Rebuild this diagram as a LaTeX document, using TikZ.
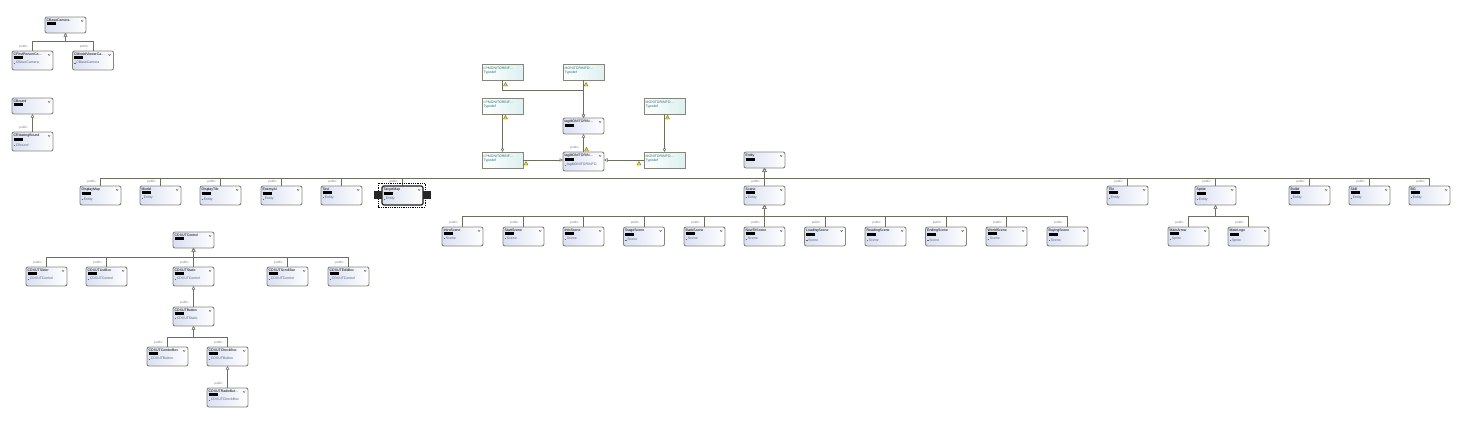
\documentclass[tikz,border=0pt]{standalone}
\usepackage{fontspec}
\setmainfont{Liberation Sans}
\usetikzlibrary{arrows.meta}
\definecolor{boxblue}{HTML}{DAE0F2}
\definecolor{boxedge}{HTML}{85857A}
\definecolor{linegray}{HTML}{6E6E60}
\definecolor{basegray}{HTML}{5A6478}
\definecolor{typeteal}{HTML}{2F6F70}
\definecolor{typecyan}{HTML}{DDF0F0}
\newcommand{\basename}[1]{\textcolor{basegray}{\rule[.4pt]{1.6pt}{1pt}\,#1}}
\tikzset{
  classbox/.style={anchor=north west, draw=boxedge, line width=.9pt, rounded corners=2pt, outer sep=0pt,
    left color=boxblue, right color=white, minimum width=41pt, inner sep=0pt},
  typebox/.style={anchor=north west, draw=boxedge, line width=.9pt, outer sep=0pt,
    left color=white, right color=typecyan, minimum width=41pt, minimum height=16pt, inner sep=0pt},
  boxtext/.style={anchor=north west, align=left, inner sep=0pt, font=\fontsize{3.5pt}{4pt}\selectfont},
  pub/.style={text=gray, inner sep=0pt, font=\fontsize{3.2pt}{4pt}\selectfont},
  conn/.style={draw=linegray, line width=1pt, -{Triangle[open,fill=white,length=3.5pt,width=3.5pt,line width=.5pt]}},
  chev/.style={draw=black!70, line width=.4pt},
  warn/.style={draw=black!70, fill=yellow!85!orange, line width=.3pt}
}
\begin{document}
\begin{tikzpicture}[x=1pt,y=-1pt]
  \useasboundingbox (0,0) rectangle (1468,421);
  % Class boxes: name/left/top/height/title/base
  \foreach \n/\x/\y/\h/\ttl/\bas in {
    camBase/45/17/16/CBaseCamera/{},
    camFirst/12/51/19/CFirstPersonCa\dots/\basename{CBaseCamera},
    camModel/72.5/51/19/CModelViewerCa\dots/\basename{CBaseCamera},
    bound/12/98/16/CBound/{},
    boundRot/12/132/19/CRotatingBound/\basename{CBound},
    entity/744/152/16/Entity/{},
    dispMap/80/186/19/DisplayMap/\basename{Entity},
    model/140/186/19/Model/\basename{Entity},
    dispTile/200/186/19/DisplayTile/\basename{Entity},
    enemy/261/186/19/EnemyAI/\basename{Entity},
    textEnt/321/186/19/Text/\basename{Entity},
    targetMap/382/186/19/TargetMap/\basename{Entity},
    scene/744/186/19/Scene/\basename{Entity},
    tile/1107/186/19/Tile/\basename{Entity},
    sprite/1195/186/19/Sprite/\basename{Entity},
    bullet/1289/186/19/Bullet/\basename{Entity},
    skill/1349/186/19/Skill/\basename{Entity},
    bg/1409/186/19/BG/\basename{Entity},
    introScene/442/227/19/IntroScene/\basename{Scene},
    startScene/503/227/19/StartScene/\basename{Scene},
    infoScene/563/227/19/InfoScene/\basename{Scene},
    stageScene/623.5/227/19/StageScene/\basename{Scene},
    backScene/684/227/19/BackScene/\basename{Scene},
    titleScene/744/227/19/NewTitScene/\basename{Scene},
    loadScene/804.5/227/19/LoadingScene/\basename{Scene},
    readScene/865/227/19/ReadingScene/\basename{Scene},
    endScene/925.5/227/19/EndingScene/\basename{Scene},
    worldScene/986/227/19/WorldScene/\basename{Scene},
    buyScene/1047/227/19/BuyingScene/\basename{Scene},
    mainArrow/1168/227/19/MainArrow/\basename{Sprite},
    mainLogo/1228/227/19/MainLogo/\basename{Sprite},
    control/173/232/16/CDXUTControl/{},
    slider/26/267/19/CDXUTSlider/\basename{CDXUTControl},
    listBox/86/267/19/CDXUTListBox/\basename{CDXUTControl},
    staticCtl/173/267/19/CDXUTStatic/\basename{CDXUTControl},
    scrollBar/267/267/19/CDXUTScrollBar/\basename{CDXUTControl},
    editBox/328/267/19/CDXUTEditBox/\basename{CDXUTControl},
    button/173/307/19/CDXUTButton/\basename{CDXUTStatic},
    comboBox/147/347/19/CDXUTComboBox/\basename{CDXUTButton},
    checkBox/207/347/19/CDXUTCheckBox/\basename{CDXUTButton},
    radioBtn/207/388/19/CDXUTRadioBut\dots/\basename{CDXUTCheckBox},
    tagTop/563/118/16/tagMONITORIN\dots/{},
    tagLow/563/152/19/tagMONITORIN\dots/\basename{tagMONITORINFO}}
  {
    \node[classbox, minimum height=\h pt] (\n) at (\x,\y) {};
    \node[boxtext] (\n-txt) at ([shift={(1.5pt,-1.8pt)}]\n.north west)
      {\ttl\\[-.2pt]\rule{9pt}{3.4pt}\\[.6pt]\bas};
    \draw[chev] ([shift={(-5pt,-3pt)}]\n.north east) -- ++(1.1,1.6) -- ++(1.1,-1.6);
  }
  % Typedef boxes
  \foreach \n/\x/\y/\ttl in {
    lpTop/482/64/LPMONITORINF\dots,
    moTop/563/64/MONITORINFO\dots,
    lpMid/482/98/LPMONITORINF\dots,
    moMid/644/98/MONITORINFO\dots,
    lpLow/482/152/LPMONITORINF\dots,
    moLow/644/152/MONITORINFO\dots}
  {
    \node[typebox] (\n) at (\x,\y) {};
    \node[boxtext, text=typeteal] (\n-txt) at ([shift={(1.5pt,-2.5pt)}]\n.north west) {\ttl\\[.4pt]Typedef};
  }
  % Inheritance: child/parent/distance of the bus below the parent
  \foreach \c/\p/\d in {
    camFirst/camBase/8, camModel/camBase/8, boundRot/bound/9,
    dispMap/entity/10, model/entity/10, dispTile/entity/10, enemy/entity/10,
    textEnt/entity/10, targetMap/entity/10, scene/entity/10, tile/entity/10,
    sprite/entity/10, bullet/entity/10, skill/entity/10, bg/entity/10,
    introScene/scene/11, startScene/scene/11, infoScene/scene/11, stageScene/scene/11,
    backScene/scene/11, titleScene/scene/11, loadScene/scene/11, readScene/scene/11,
    endScene/scene/11, worldScene/scene/11, buyScene/scene/11,
    mainArrow/sprite/11, mainLogo/sprite/11,
    slider/control/9, listBox/control/9, staticCtl/control/9, scrollBar/control/9, editBox/control/9,
    button/staticCtl/10, comboBox/button/11, checkBox/button/11, radioBtn/checkBox/11,
    tagLow/tagTop/9}
  {
    \draw[conn] (\c.north) |- ([yshift=-\d pt]\p.south) -- (\p.south);
    \node[pub] (\c-pub) at ([shift={(-9pt,4.5pt)}]\c.north) {public};
  }
  % Typedef links
  \draw[conn] (lpTop.south) |- ([yshift=-10pt]moTop.south) -- (tagTop.north);
  \draw[conn] (moTop.south) -- (tagTop.north);
  \draw[conn] (lpMid.south) -- (lpLow.north);
  \draw[conn] (moMid.south) -- (moLow.north);
  \draw[conn] (lpLow.east) -- (tagLow.west |- lpLow.east);
  \draw[conn] (moLow.west) -- (tagLow.east |- moLow.east);
  % Warning signs
  \foreach \x/\y in {505.5/86, 586/86, 505.5/119, 667.5/119, 526/165, 639/165, 586.5/151}
    \draw[warn] (\x-2,\y) -- (\x+2,\y) -- (\x,\y-3.6) -- cycle;
  % Selected box
  \draw[line width=1.3pt, draw=black!80, rounded corners=2pt] (targetMap.north west) rectangle (targetMap.south east);
  \draw[densely dotted, line width=.8pt] ([shift={(-4pt,3pt)}]targetMap.north west) rectangle ([shift={(2pt,-2pt)}]targetMap.south east);
  \fill[black!85] ([shift={(-8pt,-5pt)}]targetMap.north west) rectangle ++(8,8);
  \fill[black!85] ([shift={(0pt,-5pt)}]targetMap.north east) rectangle ++(8,8);
\end{tikzpicture}
\end{document}
